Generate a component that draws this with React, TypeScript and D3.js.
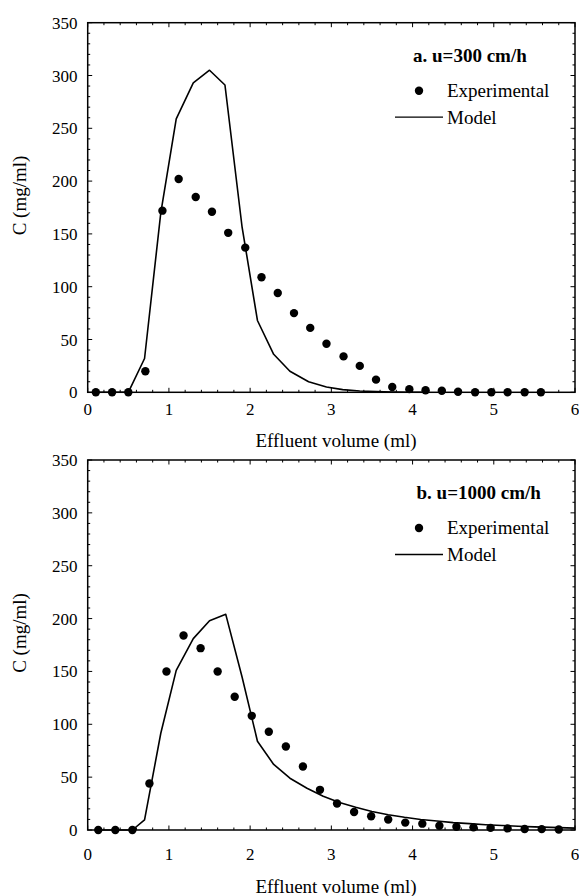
import React from "react";
import * as d3 from "d3";

// Panel a: u = 300 cm/h
const expXA = [0.1, 0.3, 0.5, 0.71, 0.92, 1.12, 1.33, 1.53, 1.73, 1.94, 2.14, 2.34, 2.54, 2.74, 2.94, 3.15, 3.35, 3.55, 3.75, 3.96, 4.16, 4.36, 4.56, 4.77, 4.97, 5.17, 5.38, 5.58];
const expYA = [0, 0, 0, 20, 172, 202, 185, 171, 151, 137, 109, 94, 75, 61, 46, 34, 25, 12, 5, 3, 2, 1.5, 0.5, 0, 0, 0, 0, 0];
const modXA = [0.1, 0.5, 0.7, 0.9, 1.09, 1.3, 1.5, 1.69, 1.9, 2.09, 2.29, 2.49, 2.72, 2.94, 3.14, 3.35, 3.55, 3.75, 3.95, 4.15];
const modYA = [0, 0, 32, 170, 259, 293, 305, 291, 157, 68, 36, 20, 10, 5, 2.5, 1.2, 0.6, 0.3, 0.1, 0];

// Panel b: u = 1000 cm/h
const expXB = [0.13, 0.34, 0.55, 0.76, 0.97, 1.18, 1.39, 1.6, 1.81, 2.02, 2.23, 2.44, 2.65, 2.86, 3.07, 3.28, 3.49, 3.7, 3.91, 4.12, 4.33, 4.54, 4.75, 4.96, 5.17, 5.38, 5.59, 5.8];
const expYB = [0, 0, 0, 44, 150, 184, 172, 150, 126, 108, 93, 79, 60, 38, 25, 17, 13, 10, 7, 6, 4, 3, 2.5, 2, 1.5, 1, 0.8, 0.5];
const modXB = [0.1, 0.55, 0.7, 0.9, 1.09, 1.3, 1.5, 1.7, 1.9, 2.09, 2.29, 2.49, 2.7, 2.9, 3.1, 3.3, 3.5, 3.7, 3.9, 4.1, 4.3, 4.5, 4.7, 4.9, 5.1, 5.3, 5.5, 5.7, 5.9, 6.0];
const modYB = [0, 0, 9.5, 91.5, 151, 181, 198, 204, 145, 84, 62, 49, 39.5, 32, 26, 21.5, 17.5, 14.5, 12, 10, 8.5, 7, 6, 5, 4.3, 3.6, 3, 2.5, 2, 1.8];

const xTicks = [0, 1, 2, 3, 4, 5, 6];
const yTicks = [0, 50, 100, 150, 200, 250, 300, 350];
const xTitle = "Effluent volume (ml)";
const yTitle = "C (mg/ml)";
const seriesLabels = ["Experimental", "Model"];

const FONT = "'Liberation Serif', 'Times New Roman', serif";

type PanelProps = {
  top: number;
  bottom: number;
  label: string;
  ex: number[];
  ey: number[];
  mx: number[];
  my: number[];
  tickLabelGap: number;
  titleY: number;
  labelX: number;
};

function Panel({ top, bottom, label, ex, ey, mx, my, tickLabelGap, titleY, labelX }: PanelProps) {
  const left = 87.7;
  const right = 575;
  const x = d3.scaleLinear().domain([0, 6]).range([left, right]);
  const y = d3.scaleLinear().domain([0, 350]).range([bottom, top]);
  const line = d3
    .line<number>()
    .x((_, i) => x(mx[i]))
    .y((d) => y(d));

  const xMinor = d3.range(0, 6.0001, 0.2).map((v) => +v.toFixed(2)).filter((v) => !xTicks.includes(v));
  const yMinor = d3.range(0, 351, 10).filter((v) => v % 50 !== 0);
  const maj = 4.5;
  const min = 2.5;
  const legX = 395;

  return (
    <g>
      {/* ticks on all four sides, pointing inward */}
      <g stroke="#000" strokeWidth={1}>
        {xTicks.map((t) => (
          <g key={"xm" + t}>
            <line x1={x(t)} x2={x(t)} y1={bottom} y2={bottom - maj} />
            <line x1={x(t)} x2={x(t)} y1={top} y2={top + maj} />
          </g>
        ))}
        {xMinor.map((t) => (
          <g key={"xn" + t}>
            <line x1={x(t)} x2={x(t)} y1={bottom} y2={bottom - min} />
            <line x1={x(t)} x2={x(t)} y1={top} y2={top + min} />
          </g>
        ))}
        {yTicks.map((t) => (
          <g key={"ym" + t}>
            <line x1={left} x2={left + maj} y1={y(t)} y2={y(t)} />
            <line x1={right} x2={right - maj} y1={y(t)} y2={y(t)} />
          </g>
        ))}
        {yMinor.map((t) => (
          <g key={"yn" + t}>
            <line x1={left} x2={left + min} y1={y(t)} y2={y(t)} />
            <line x1={right} x2={right - min} y1={y(t)} y2={y(t)} />
          </g>
        ))}
      </g>
      <rect x={left} y={top} width={right - left} height={bottom - top} fill="none" stroke="#000" strokeWidth={1.5} />

      {/* tick labels */}
      <g fontFamily={FONT} fontSize={17} fill="#000">
        {xTicks.map((t) => (
          <text key={"xl" + t} x={x(t)} y={bottom + tickLabelGap} textAnchor="middle">
            {t}
          </text>
        ))}
        {yTicks.map((t) => (
          <text key={"yl" + t} x={77.5} y={y(t) + 6} textAnchor="end">
            {t}
          </text>
        ))}
      </g>

      {/* axis titles */}
      <text x={336} y={titleY} textAnchor="middle" fontFamily={FONT} fontSize={19}>
        {xTitle}
      </text>
      <text
        transform={`translate(26,${(top + bottom) / 2 - 12}) rotate(-90)`}
        textAnchor="middle"
        fontFamily={FONT}
        fontSize={19}
      >
        {yTitle}
      </text>

      {/* model curve */}
      <path d={line(my) || ""} fill="none" stroke="#000" strokeWidth={1.6} strokeLinejoin="round" />

      {/* experimental points */}
      {ex.map((v, i) => (
        <circle key={"p" + i} cx={x(v)} cy={y(ey[i])} r={4.2} fill="#000" />
      ))}

      {/* legend */}
      <text x={labelX} y={top + 39} fontFamily={FONT} fontSize={19} fontWeight="bold">
        {label}
      </text>
      <circle cx={legX + 24} cy={top + 68} r={4.2} fill="#000" />
      <text x={447} y={top + 74} fontFamily={FONT} fontSize={19}>
        {seriesLabels[0]}
      </text>
      <line x1={legX} x2={443} y1={top + 94.5} y2={top + 94.5} stroke="#000" strokeWidth={1.3} />
      <text x={447} y={top + 101} fontFamily={FONT} fontSize={19}>
        {seriesLabels[1]}
      </text>
    </g>
  );
}

export default function App() {
  return (
    <svg
      width={579}
      height={896}
      viewBox="0 0 579 896"
      style={{ position: "absolute", left: 0, top: 0, background: "#fff" }}
    >
      <rect x={0} y={0} width={579} height={896} fill="#fff" />
      <Panel
        top={22.7}
        bottom={392.3}
        label="a. u=300 cm/h"
        ex={expXA}
        ey={expYA}
        mx={modXA}
        my={modYA}
        tickLabelGap={23}
        titleY={447}
        labelX={413}
      />
      <Panel
        top={460}
        bottom={830}
        label="b. u=1000 cm/h"
        ex={expXB}
        ey={expYB}
        mx={modXB}
        my={modYB}
        tickLabelGap={30}
        titleY={893}
        labelX={416.5}
      />
    </svg>
  );
}
